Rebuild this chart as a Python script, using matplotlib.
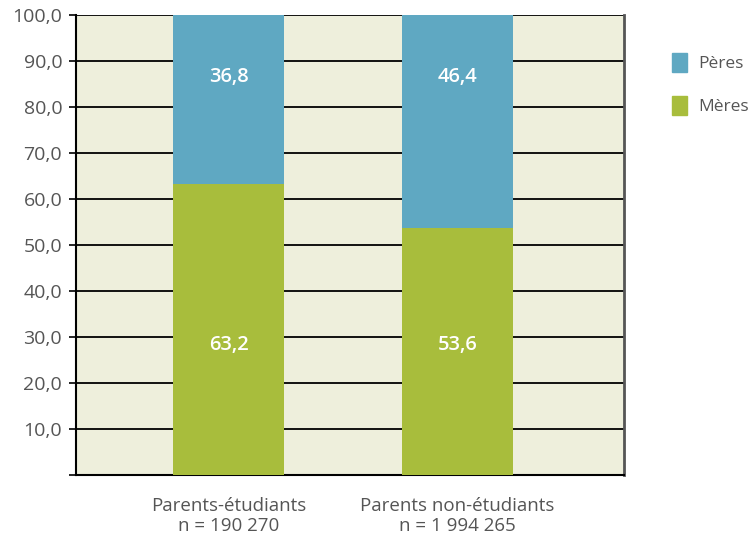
import matplotlib.pyplot as plt
from matplotlib.patches import Patch

# données
categories = ['Parents-étudiants\nn = 190 270', 'Parents non-étudiants\nn = 1 994 265']
meres = [63.2, 53.6]
peres = [36.8, 46.4]
etiquettes_meres = ['63,2', '53,6']
etiquettes_peres = ['36,8', '46,4']

bleu = '#5FA8C2'
vert = '#A8BD3C'
gris = '#555555'

plt.rcParams['font.family'] = ['Open Sans', 'DejaVu Sans']

fig = plt.figure(figsize=(7.52, 5.37), dpi=100)
ax = fig.add_axes([0.1011, 0.1155, 0.7287, 0.8565])
ax.set_facecolor('#EEEFDC')

x = list(range(len(categories)))
ax.bar(x, meres, width=0.485, color=vert, zorder=3)
ax.bar(x, peres, bottom=meres, width=0.485, color=bleu, zorder=3)

# étiquettes dans les barres
for i in x:
    ax.text(i, 28.3, etiquettes_meres[i], color='white', fontsize=14.5, fontweight='semibold',
            ha='center', va='center', zorder=4)
    ax.text(i, 86.5, etiquettes_peres[i], color='white', fontsize=14.5, fontweight='semibold',
            ha='center', va='center', zorder=4)

ax.set_xlim(-0.666, 1.727)
ax.set_ylim(0, 100)
ax.set_yticks(range(0, 101, 10))
ax.set_yticklabels([''] + [f'{v},0' for v in range(10, 101, 10)])
ax.yaxis.grid(True, color='black', linewidth=1.3, zorder=1)
ax.set_axisbelow(True)

ax.set_xticks(x)
ax.set_xticklabels(categories, color=gris, fontsize=13.5, linespacing=1.15)
ax.tick_params(axis='x', length=0, pad=16)
ax.tick_params(axis='y', direction='out', length=5, width=1.2, colors='black', labelcolor=gris, labelsize=14, pad=5)

ax.spines['top'].set_visible(False)
ax.spines['left'].set_linewidth(1.5)
ax.spines['bottom'].set_linewidth(1.5)
ax.spines['right'].set_color('#555555')
ax.spines['right'].set_linewidth(2)

poignees = [Patch(color=bleu, label='Pères'), Patch(color=vert, label='Mères')]
fig.legend(handles=poignees, loc='upper left', bbox_to_anchor=(0.884, 0.915), frameon=False,
           fontsize=12.5, labelcolor=gris, handlelength=0.9, handleheight=1.3, handletextpad=0.6,
           labelspacing=1.4, borderaxespad=0)

fig.savefig('out.png', dpi=100)
